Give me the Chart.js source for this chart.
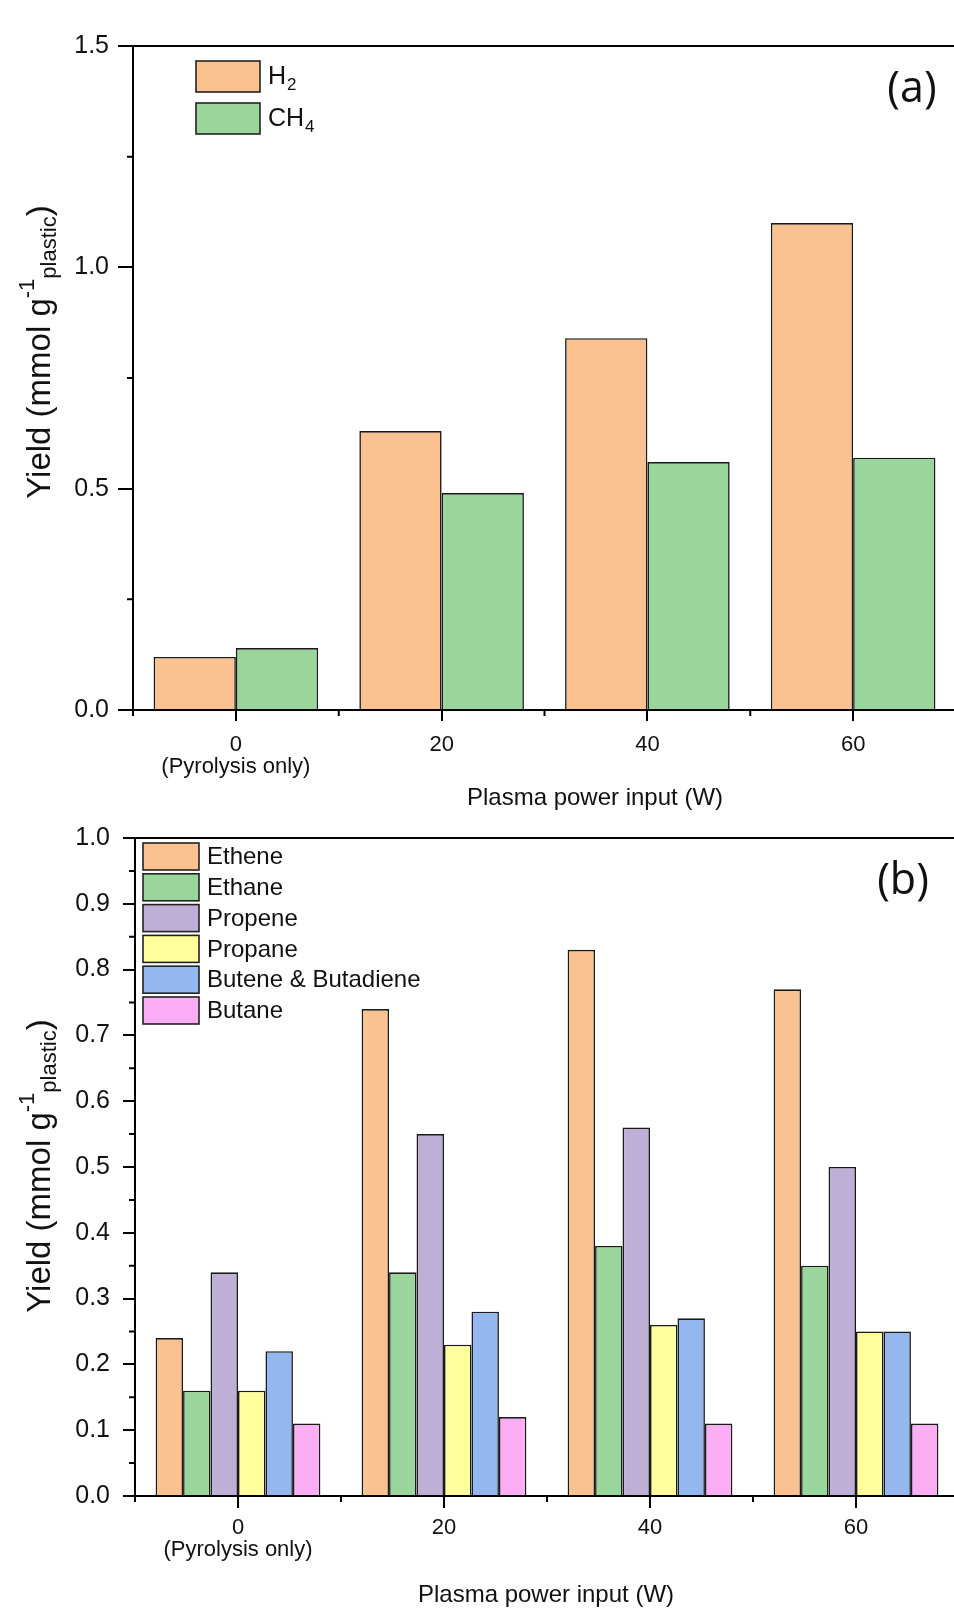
<!DOCTYPE html>
<html>
<head>
<meta charset="utf-8">
<script src="https://cdn.jsdelivr.net/npm/chart.js@4.4.0/dist/chart.umd.min.js"></script>
<style>
  html, body { margin: 0; padding: 0; background: #fff; overflow: hidden; width: 954px; height: 1613px; }
  .panel { position: absolute; left: 0; }
  #panelA { top: 0; width: 960px; height: 810px; }
  #panelB { top: 810px; width: 962px; height: 803px; }
</style>
</head>
<body>
<div class="panel" id="panelA"><canvas id="gasesA"></canvas></div>
<div class="panel" id="panelB"><canvas id="gasesB"></canvas></div>
<script>
    // datos
    const potencias = [['0', '(Pyrolysis only)'], '20', '40', '60'];
    const h2 = [0.12, 0.63, 0.84, 1.10];
    const ch4 = [0.14, 0.49, 0.56, 0.57];
    const eteno = [0.24, 0.74, 0.83, 0.77];
    const etano = [0.16, 0.34, 0.38, 0.35];
    const propeno = [0.34, 0.55, 0.56, 0.50];
    const propano = [0.16, 0.23, 0.26, 0.25];
    const buteno = [0.22, 0.28, 0.27, 0.25];
    const butano = [0.11, 0.12, 0.11, 0.11];

    const fuente = '"Liberation Sans", Arial, sans-serif';
    const tinta = '#111';
    const bordeBarra = '#1a1a1a';

    // texto con subindices unicode dibujados como digitos pequeños
    function textoConSub(ctx, texto, x, y, size) {
        let cx = x;
        for (const ch of texto) {
            const code = ch.charCodeAt(0);
            if (code >= 0x2080 && code <= 0x2089) {
                const d = String(code - 0x2080);
                ctx.font = Math.round(size * 0.68) + 'px ' + fuente;
                ctx.fillText(d, cx + 1, y + size * 0.3);
                cx += ctx.measureText(d).width + 1;
            } else {
                ctx.font = size + 'px ' + fuente;
                ctx.fillText(ch, cx, y);
                cx += ctx.measureText(ch).width;
            }
        }
    }

    // ejes, ticks menores, leyenda y textos sueltos
    const decorado = {
        id: 'decorado',
        afterDraw(chart, args, o) {
            const { ctx, chartArea: a, scales: { x, y } } = chart;
            ctx.save();
            ctx.strokeStyle = '#000';
            ctx.lineWidth = 2;
            ctx.beginPath();
            ctx.moveTo(a.left - 1, a.top);
            ctx.lineTo(a.right, a.top);
            const n = Math.round(y.max / o.yMenor);
            for (let k = 0; k <= n; k++) {
                if (k % o.cadaMayor === 0) continue;
                const py = y.getPixelForValue(k * o.yMenor);
                ctx.moveTo(a.left - 6, py);
                ctx.lineTo(a.left, py);
            }
            for (let i = 0; i <= chart.data.labels.length; i++) {
                const px = x.getPixelForValue(i - 0.5);
                ctx.moveTo(px, a.bottom);
                ctx.lineTo(px, a.bottom + 6);
            }
            ctx.stroke();

            // leyenda
            const L = o.leyenda;
            chart.data.datasets.forEach((ds, i) => {
                const top = a.top + L.dy + i * L.paso;
                const left = a.left + L.dx;
                ctx.fillStyle = ds.backgroundColor;
                ctx.fillRect(left, top, L.w, L.h);
                ctx.lineWidth = 1.6;
                ctx.strokeStyle = '#222';
                ctx.strokeRect(left, top, L.w, L.h);
                ctx.fillStyle = tinta;
                ctx.textBaseline = 'middle';
                ctx.textAlign = 'left';
                textoConSub(ctx, ds.label, left + L.w + L.gap, top + L.h / 2 + 1, L.size);
            });

            // titulo eje x
            ctx.font = '24px ' + fuente;
            ctx.textAlign = 'center';
            ctx.textBaseline = 'middle';
            ctx.fillStyle = tinta;
            ctx.fillText('Plasma power input (W)', o.xTitulo[0], o.xTitulo[1]);

            // (a) / (b)
            ctx.font = '43px "Open Sans", sans-serif';
            ctx.fillText(o.panel[0], o.panel[1], o.panel[2]);

            // titulo eje y con super y subindice
            const partes = [
                { t: 'Yield (mmol g', f: 33, dy: 0 },
                { t: '-1', f: 22, dy: -13 },
                { t: 'plastic', f: 22, dy: 9 },
                { t: ')', f: 33, dy: 0 }
            ];
            let total = 0;
            partes.forEach(p => { ctx.font = p.f + 'px ' + fuente; p.w = ctx.measureText(p.t).width; total += p.w; });
            ctx.translate(o.yTitulo[0], o.yTitulo[1]);
            ctx.rotate(-Math.PI / 2);
            ctx.textAlign = 'left';
            ctx.textBaseline = 'middle';
            let cx = -total / 2;
            partes.forEach(p => {
                ctx.font = p.f + 'px ' + fuente;
                ctx.fillText(p.t, cx, p.dy);
                cx += p.w;
            });
            ctx.restore();
        }
    };

    function opcionesEjes(maxY, paso, c) {
        return {
            x: {
                offset: true,
                grid: { offset: false, drawOnChartArea: false, tickLength: c.xTick, color: '#000', lineWidth: 2 },
                border: { color: '#000', width: 2 },
                ticks: { color: tinta, font: { family: fuente, size: 22, lineHeight: 1.0 }, padding: c.xPad, maxRotation: 0, autoSkip: false },
                afterFit: s => { s.height = c.alto; }
            },
            y: {
                min: 0,
                max: maxY,
                grid: { drawOnChartArea: false, tickLength: c.yTick, color: '#000', lineWidth: 2 },
                border: { color: '#000', width: 2 },
                ticks: { stepSize: paso, callback: v => v.toFixed(1), color: tinta, font: { family: fuente, size: 25 }, padding: c.yPad },
                afterFit: s => { s.width = c.ancho; }
            }
        };
    }

    //panel (a)
    new Chart(document.getElementById('gasesA'), {
        type: 'bar',
        data: {
            labels: potencias,
            datasets: [
                { label: 'H\u2082', data: h2, backgroundColor: '#F9C290', borderColor: bordeBarra, borderWidth: 1.6 },
                { label: 'CH\u2084', data: ch4, backgroundColor: '#9AD69B', borderColor: bordeBarra, borderWidth: 1.6 }
            ]
        },
        options: {
            responsive: true,
            maintainAspectRatio: false,
            animation: false,
            layout: { padding: { top: 46, right: 4, left: 0, bottom: 0 }, autoPadding: false },
            datasets: { bar: { categoryPercentage: 0.8, barPercentage: 1 } },
            plugins: {
                legend: { display: false },
                tooltip: { enabled: false },
                decorado: {
                    yMenor: 0.25, cadaMayor: 2,
                    leyenda: { dx: 63, dy: 15, w: 64, h: 31, paso: 42, gap: 8, size: 25 },
                    xTitulo: [595, 798],
                    yTitulo: [41, 352],
                    panel: ['(a)', 912, 90]
                }
            },
            scales: opcionesEjes(1.5, 0.5, { xTick: 11, xPad: 13, yTick: 15, yPad: 9, alto: 100, ancho: 133 })
        },
        plugins: [decorado]
    });

    //panel (b)
    new Chart(document.getElementById('gasesB'), {
        type: 'bar',
        data: {
            labels: potencias,
            datasets: [
                { label: 'Ethene', data: eteno, backgroundColor: '#F9C290', borderColor: bordeBarra, borderWidth: 1.6 },
                { label: 'Ethane', data: etano, backgroundColor: '#9AD69B', borderColor: bordeBarra, borderWidth: 1.6 },
                { label: 'Propene', data: propeno, backgroundColor: '#BEAFD6', borderColor: bordeBarra, borderWidth: 1.6 },
                { label: 'Propane', data: propano, backgroundColor: '#FFFE9C', borderColor: bordeBarra, borderWidth: 1.6 },
                { label: 'Butene & Butadiene', data: buteno, backgroundColor: '#93B7EE', borderColor: bordeBarra, borderWidth: 1.6 },
                { label: 'Butane', data: butano, backgroundColor: '#FBAEF4', borderColor: bordeBarra, borderWidth: 1.6 }
            ]
        },
        options: {
            responsive: true,
            maintainAspectRatio: false,
            animation: false,
            layout: { padding: { top: 23, right: 3, left: 0, bottom: 0 }, autoPadding: false },
            datasets: { bar: { categoryPercentage: 0.8, barPercentage: 1 } },
            plugins: {
                legend: { display: false },
                tooltip: { enabled: false },
                decorado: {
                    yMenor: 0.05, cadaMayor: 2,
                    leyenda: { dx: 8, dy: 5, w: 56, h: 27, paso: 30.8, gap: 8, size: 24 },
                    xTitulo: [546, 785],
                    yTitulo: [41, 356],
                    panel: ['(b)', 903, 72]
                }
            },
            scales: opcionesEjes(1.0, 0.1, { xTick: 12, xPad: 9, yTick: 12, yPad: 13, alto: 117, ancho: 135 })
        },
        plugins: [decorado]
    });
</script>
</body>
</html>
